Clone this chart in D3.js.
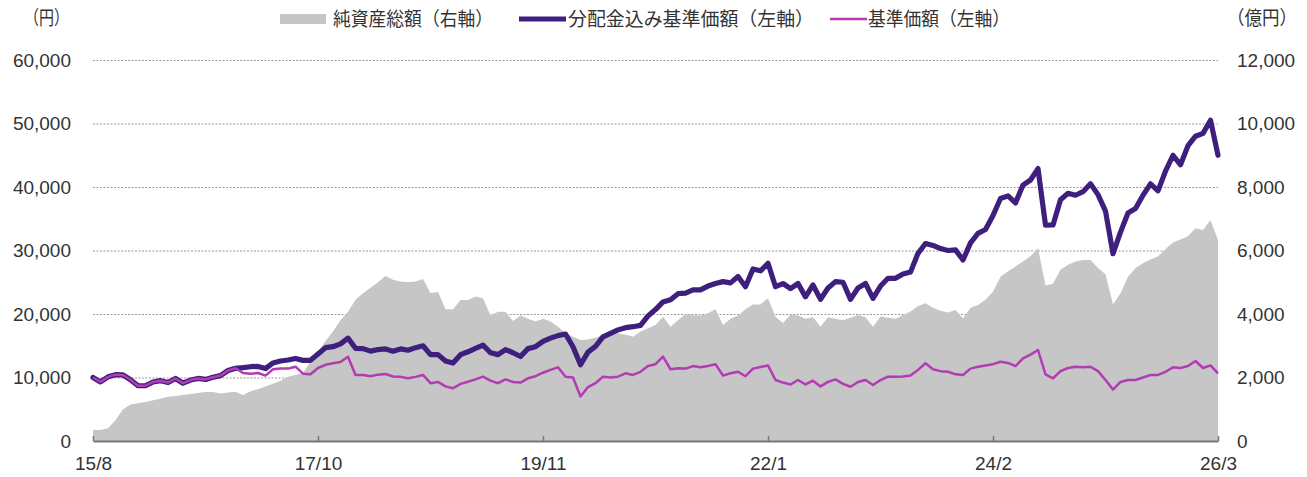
<!DOCTYPE html>
<html><head><meta charset="utf-8">
<script src="https://cdn.jsdelivr.net/npm/d3@7"></script>
<style>
html,body{margin:0;padding:0;background:#fff;}
svg{display:block;font-family:"Liberation Sans",Arial,"Noto Sans CJK JP",sans-serif;}
.cjk{font-family:"Noto Sans CJK JP","Noto Sans CJK SC",sans-serif;}
</style></head>
<body><svg id="c" width="1307" height="477"></svg>
<script>
// x-axis tick labels (evenly spaced samples, 30 samples apart)
const xTickLabels = ["15/8","17/10","19/11","22/1","24/2","26/3"];
const xTickIndex = [0,30,60,90,120,150];
const leftTicks = [0,10000,20000,30000,40000,50000,60000];
const rightTicks = [0,2000,4000,6000,8000,10000,12000];
const seriesNames = ["純資産総額（右軸）","分配金込み基準価額（左軸）","基準価額（左軸）"];

// 純資産総額 (億円, right axis)
const netAssets = [350,350,400,650,1000,1150,1190,1230,1280,1330,1395,1420,1450,1480,1510,1540,1540,1500,1530,1550,
1450,1570,1630,1720,1800,1900,2025,2080,2150,2500,2800,3150,3450,3800,4070,4450,4650,4830,5000,5200,
5080,5020,5000,5020,5100,4650,4700,4150,4150,4440,4440,4550,4500,3950,4070,4070,3780,3950,3850,3760,
3850,3760,3600,3400,3285,3180,3200,3250,3350,3390,3390,3350,3285,3450,3550,3650,3915,3600,3800,4000,
3960,3950,4020,4150,3650,3850,3950,4150,4300,4300,4495,3915,3720,3980,3950,3850,3900,3600,3900,3850,
3800,3880,3970,3900,3600,3920,3880,3850,3970,4080,4250,4340,4200,4100,4050,4125,3870,4200,4280,4450,
4700,5175,5350,5500,5650,5820,6070,4900,4950,5390,5550,5650,5700,5700,5450,5250,4300,4650,5175,5450,
5600,5720,5810,6050,6250,6350,6450,6700,6645,6960,6330];

// 分配金込み基準価額 (円, left axis)
const navWithDiv = [10000,9300,10100,10450,10400,9650,8700,8700,9300,9500,9200,9850,9100,9600,9850,9700,10050,10300,11100,11450,
11550,11700,11750,11400,12300,12600,12750,13000,12700,12700,13700,14700,14850,15300,16200,14600,14550,14150,14400,14500,
14150,14500,14300,14700,15000,13600,13600,12600,12300,13600,14050,14600,15100,13900,13600,14400,13900,13300,14550,14850,
15700,16200,16600,16850,14850,12000,14000,14900,16400,16950,17500,17850,18000,18200,19700,20700,21900,22250,23200,23300,
23800,23800,24400,24800,25100,24900,25900,24300,27100,26800,27980,24300,24800,24000,24800,22700,24570,22300,24100,25100,
25000,22300,24100,24800,22470,24400,25620,25620,26300,26600,29560,31100,30800,30300,30000,30100,28500,31200,32700,33300,
35500,38200,38600,37500,40300,41100,42900,34000,34020,38000,39000,38700,39260,40500,38800,36200,29500,32900,35900,36600,
38700,40500,39400,42500,45000,43500,46500,48000,48450,50500,45000];

// 基準価額 (円, left axis)
const nav = [10000,9300,10100,10450,10400,9650,8700,8700,9300,9500,9200,9850,9100,9600,9850,9700,10050,10300,11100,11450,
10700,10600,10700,10300,11300,11400,11400,11700,10600,10500,11500,12000,12240,12450,13280,10400,10400,10200,10450,10550,
10150,10100,9870,10100,10400,9100,9300,8600,8300,9000,9340,9700,10130,9500,9100,9700,9300,9200,9870,10200,
10750,11200,11600,10130,10000,7000,8500,9100,10130,10000,10130,10660,10400,10900,11800,12100,13280,11300,11440,11400,
11800,11600,11800,12100,10300,10660,10900,10200,11400,11650,11900,9600,9200,8900,9600,8900,9500,8600,9300,9700,
9000,8550,9300,9600,8820,9600,10130,10130,10150,10300,11200,12240,11300,11000,10900,10500,10400,11400,11700,11900,
12100,12490,12300,11800,13000,13600,14330,10500,9870,11000,11500,11700,11600,11700,11000,9600,8100,9300,9600,9600,
10000,10400,10400,10900,11600,11500,11800,12600,11500,11900,10660];

const colArea = "#c6c6c6", colTR = "#3f1f7e", colNav = "#b23cb3", colText = "#333333";
const svg = d3.select("#c");
const N = nav.length;
const x = d3.scaleLinear().domain([0, N-1]).range([93, 1218]);
const yL = d3.scaleLinear().domain([0, 60000]).range([441, 60]);
const yR = d3.scaleLinear().domain([0, 12000]).range([441, 60]);

// gridlines
svg.append("g").selectAll("line").data(leftTicks.filter(d=>d>0)).join("line")
  .attr("x1", x(0)).attr("x2", x(N-1)).attr("y1", d=>yL(d)+0.5).attr("y2", d=>yL(d)+0.5)
  .attr("stroke", "#9a9a9a").attr("stroke-width", 1.2).attr("stroke-dasharray", "2,1.5");

// area
svg.append("path").datum(netAssets)
  .attr("d", d3.area().x((d,i)=>x(i)).y0(yR(0)).y1(d=>yR(d)))
  .attr("fill", colArea);

// x axis
const xa = svg.append("g").attr("transform", `translate(0,${yL(0)})`)
  .call(d3.axisBottom(x).tickValues(xTickIndex).tickFormat((d,i)=>xTickLabels[i]).tickSize(-5).tickSizeOuter(0).tickPadding(11));
xa.select(".domain").attr("stroke", "#777").attr("stroke-width", 2);
xa.selectAll(".tick line").attr("stroke", "#777").attr("stroke-width", 1.5);
xa.selectAll("text").attr("font-size", 19).attr("fill", colText).attr("dy", "0.95em");

// left axis labels
const la = svg.append("g").attr("transform", "translate(71,0)")
  .call(d3.axisLeft(yL).tickValues(leftTicks).tickFormat(d3.format(",")).tickSize(0).tickPadding(0));
la.select(".domain").remove();
la.selectAll("text").attr("font-size", 19).attr("fill", colText);

// right axis labels
const ra = svg.append("g").attr("transform", "translate(1237,0)")
  .call(d3.axisRight(yR).tickValues(rightTicks).tickFormat(d3.format(",")).tickSize(0).tickPadding(0));
ra.select(".domain").remove();
ra.selectAll("text").attr("font-size", 19).attr("fill", colText);

// lines
svg.append("path").datum(navWithDiv)
  .attr("d", d3.line().x((d,i)=>x(i)).y(d=>yL(d)))
  .attr("fill", "none").attr("stroke", colTR).attr("stroke-width", 5.2).attr("stroke-linejoin", "round").attr("stroke-linecap", "round");
svg.append("path").datum(nav)
  .attr("d", d3.line().x((d,i)=>x(i)).y(d=>yL(d)))
  .attr("fill", "none").attr("stroke", colNav).attr("stroke-width", 2.5).attr("stroke-linejoin", "round");

// unit labels
svg.append("text").attr("class","cjk").attr("x", 24).attr("y", 25).attr("font-size", 19).attr("fill", colText)
  .attr("textLength", 45).attr("lengthAdjust", "spacingAndGlyphs").text("（円）");
svg.append("text").attr("class","cjk").attr("x", 1227).attr("y", 25).attr("font-size", 19).attr("fill", colText)
  .attr("textLength", 70).attr("lengthAdjust", "spacingAndGlyphs").text("（億円）");

// legend
const lg = svg.append("g").attr("class","cjk").attr("font-size", 19).attr("fill", colText);
lg.append("rect").attr("x", 280).attr("y", 14).attr("width", 46).attr("height", 10).attr("fill", colArea);
lg.append("text").attr("x", 333).attr("y", 26).attr("textLength", 160).attr("lengthAdjust", "spacingAndGlyphs").text(seriesNames[0]);
lg.append("line").attr("x1", 519).attr("x2", 566).attr("y1", 19).attr("y2", 19).attr("stroke", colTR).attr("stroke-width", 5);
lg.append("text").attr("x", 568).attr("y", 26).attr("textLength", 246).attr("lengthAdjust", "spacingAndGlyphs").text(seriesNames[1]);
lg.append("line").attr("x1", 830).attr("x2", 867).attr("y1", 19).attr("y2", 19).attr("stroke", colNav).attr("stroke-width", 2.5);
lg.append("text").attr("x", 868).attr("y", 26).attr("textLength", 142).attr("lengthAdjust", "spacingAndGlyphs").text(seriesNames[2]);
</script></body></html>
